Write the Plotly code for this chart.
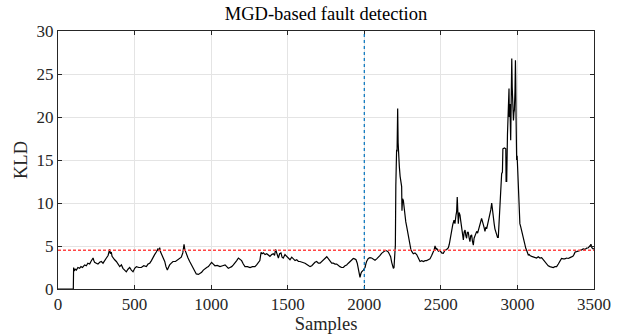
import plotly.graph_objects as go

# ---- data ----
samples = [0, 100, 102, 106, 112, 120, 130, 141, 150, 160, 174, 185, 195, 207, 215, 222, 229, 234, 239, 250,
           261, 272, 283, 294, 305, 316, 327, 332, 337, 342, 348, 353, 359, 370, 381, 392, 403, 414, 424, 435,
           446, 457, 468, 479, 490, 501, 512, 528, 544, 560, 577, 588, 599, 610, 620, 631, 642, 648, 653, 658,
           664, 670, 675, 686, 697, 705, 714, 721, 729, 740, 751, 767, 784, 795, 805, 815, 823, 828, 838, 849,
           860, 871, 882, 893, 903, 917, 928, 938, 949, 960, 971, 982, 993, 1003, 1014, 1025, 1040, 1058, 1075, 1091,
           1102, 1112, 1123, 1134, 1145, 1156, 1167, 1178, 1188, 1199, 1210, 1221, 1237, 1254, 1270, 1286, 1297, 1308, 1318, 1326,
           1333, 1341, 1352, 1363, 1374, 1384, 1395, 1406, 1414, 1421, 1428, 1439, 1447, 1456, 1463, 1471, 1482, 1493, 1504, 1515,
           1526, 1537, 1548, 1559, 1570, 1580, 1597, 1613, 1630, 1646, 1657, 1667, 1678, 1689, 1700, 1711, 1722, 1733, 1744, 1755,
           1766, 1776, 1787, 1798, 1809, 1820, 1831, 1841, 1852, 1863, 1874, 1885, 1896, 1907, 1917, 1928, 1937, 1946, 1954, 1961,
           1968, 1972, 1978, 1983, 1994, 2005, 2010, 2015, 2026, 2037, 2048, 2059, 2070, 2081, 2092, 2103, 2113, 2124, 2135, 2146,
           2157, 2165, 2172, 2179, 2185, 2190, 2194, 2198, 2203, 2206, 2208, 2211, 2214, 2218, 2221, 2224, 2229, 2234, 2239, 2244,
           2246, 2250, 2255, 2260, 2266, 2271, 2277, 2283, 2288, 2294, 2299, 2304, 2309, 2315, 2320, 2331, 2342, 2353, 2364, 2375,
           2386, 2397, 2407, 2418, 2429, 2440, 2451, 2457, 2462, 2468, 2473, 2484, 2494, 2505, 2516, 2527, 2538, 2549, 2555, 2560,
           2565, 2570, 2578, 2586, 2592, 2599, 2603, 2607, 2610, 2614, 2619, 2625, 2630, 2636, 2641, 2647, 2652, 2658, 2663, 2668,
           2673, 2679, 2684, 2690, 2695, 2701, 2706, 2712, 2717, 2723, 2728, 2734, 2740, 2745, 2750, 2755, 2761, 2766, 2771, 2777,
           2783, 2788, 2794, 2799, 2805, 2810, 2815, 2821, 2826, 2832, 2837, 2843, 2848, 2853, 2859, 2864, 2870, 2875, 2879, 2882,
           2886, 2890, 2894, 2897, 2902, 2905, 2915, 2924, 2926, 2930, 2935, 2941, 2945, 2947, 2951, 2956, 2960, 2963, 2966, 2969,
           2974, 2977, 2980, 2984, 2987, 2989, 2991, 2995, 2998, 3002, 3006, 3011, 3016, 3022, 3027, 3033, 3038, 3044, 3049, 3055,
           3060, 3066, 3071, 3077, 3082, 3093, 3103, 3114, 3125, 3136, 3147, 3158, 3169, 3180, 3190, 3201, 3212, 3223, 3234, 3245,
           3256, 3267, 3278, 3288, 3299, 3310, 3321, 3332, 3343, 3354, 3362, 3369, 3377, 3386, 3397, 3408, 3419, 3430, 3441, 3452,
           3463, 3473, 3480, 3486, 3491, 3495, 3500]

kld = [0.0, 0.0, 2.5, 2.1, 2.3, 2.2, 2.5, 2.4, 2.6, 2.5, 2.8, 2.7, 3.0, 2.9, 3.2, 3.4, 3.6, 3.3, 3.1, 3.0,
       2.9, 3.1, 3.2, 3.0, 3.4, 3.6, 3.9, 4.4, 4.6, 4.1, 4.3, 3.8, 3.6, 3.4, 3.2, 2.9, 2.6, 2.8, 2.4, 2.2,
       2.0, 2.3, 2.5, 2.2, 2.0, 2.4, 2.6, 2.5, 2.5, 2.7, 2.6, 2.9, 3.0, 3.3, 3.7, 4.0, 4.3, 4.6, 4.7, 4.4,
       4.8, 4.3, 4.1, 3.6, 3.2, 2.6, 2.2, 2.5, 2.8, 3.0, 3.2, 3.2, 3.4, 3.6, 3.7, 4.2, 5.2, 4.6, 4.0, 3.6,
       3.2, 2.8, 2.4, 2.0, 1.75, 1.7, 1.8, 1.95, 2.2, 2.4, 2.5, 2.6, 2.9, 3.1, 2.9, 2.7, 2.75, 2.6, 2.7, 2.8,
       2.6, 2.4, 2.5, 2.6, 2.8, 3.0, 3.3, 3.6, 3.5, 3.3, 2.9, 2.6, 2.6, 2.5, 2.6, 2.6, 2.8, 3.0, 3.3, 4.25,
       4.1, 4.2, 4.0, 4.1, 3.9, 3.8, 4.0, 4.1, 3.9, 4.6, 4.2, 3.6, 4.1, 4.2, 3.7, 3.6, 4.0, 3.8, 3.5, 3.4,
       3.7, 3.5, 3.3, 3.4, 3.2, 3.2, 3.1, 3.0, 2.8, 2.6, 2.7, 2.9, 3.1, 3.2, 3.0, 3.0, 3.2, 3.4, 3.6, 3.75,
       3.5, 3.2, 3.0, 3.0, 2.9, 2.9, 2.7, 2.6, 2.5, 2.5, 2.7, 2.8, 3.0, 3.2, 3.4, 3.55, 3.5, 3.4, 3.0, 2.4,
       1.6, 1.35, 1.8, 2.0, 2.2, 2.5, 2.9, 3.2, 3.55, 3.65, 3.6, 3.45, 3.35, 3.5, 3.65, 3.9, 4.15, 4.35, 4.45, 4.45,
       4.3, 4.0, 3.75, 3.1, 2.6, 2.4, 2.5, 3.5, 5.1, 12.0, 15.8, 16.2, 16.0, 21.0, 17.0, 15.0, 14.2, 13.1, 12.5, 11.9,
       9.1, 10.5, 10.3, 9.2, 8.4, 7.8, 7.25, 6.6, 6.1, 5.3, 4.7, 4.6, 4.4, 4.2, 4.1, 4.2, 4.0, 3.6, 3.2, 3.3,
       3.2, 3.3, 3.3, 3.4, 3.5, 3.9, 4.3, 4.6, 5.0, 4.6, 4.7, 4.4, 4.5, 4.2, 4.15, 4.5, 4.6, 4.8, 5.2, 5.7,
       6.5, 6.7, 7.5, 8.0, 7.6, 8.6, 9.0, 10.7, 8.5, 7.6, 8.9, 8.6, 7.9, 7.25, 6.5, 5.7, 6.6, 6.85, 6.2, 5.9,
       6.6, 6.6, 6.0, 5.5, 6.2, 6.3, 5.6, 5.1, 5.9, 6.2, 6.6, 6.7, 6.5, 6.9, 7.1, 7.4, 7.8, 8.2, 7.9, 7.6,
       7.1, 6.7, 7.2, 7.0, 7.5, 7.7, 8.1, 8.6, 9.2, 10.0, 9.0, 8.5, 7.6, 7.0, 6.5, 6.1, 6.0, 6.0, 7.5, 9.0,
       11.0, 12.3, 13.0, 13.4, 13.6, 16.3, 16.4, 16.3, 12.5, 12.5, 18.0, 23.1, 23.3, 20.0, 21.5, 17.3, 20.5, 26.8, 23.5, 21.2,
       19.6, 20.5, 20.8, 23.0, 26.6, 24.0, 20.0, 15.0, 15.5, 13.8, 11.5, 9.5, 7.6, 7.2, 6.8, 6.2, 5.8, 5.3, 4.9, 4.7,
       4.5, 4.2, 3.95, 4.0, 3.88, 3.8, 3.75, 3.65, 3.6, 3.75, 3.6, 3.65, 3.4, 3.1, 2.9, 2.7, 2.6, 2.55, 2.5, 2.6,
       2.6, 2.9, 3.2, 3.55, 3.5, 3.5, 3.6, 3.55, 3.65, 3.7, 3.8, 4.0, 4.3, 4.35, 4.4, 4.5, 4.55, 4.65, 4.6, 4.75,
       4.8, 5.0, 5.2, 4.8, 4.7, 4.65, 4.7]

threshold = 4.5
fault_start = 2000
x_ticks = [0, 500, 1000, 1500, 2000, 2500, 3000, 3500]
y_ticks = [0, 5, 10, 15, 20, 25, 30]

FONT = "Liberation Serif, Times New Roman, serif"
AXIS_COLOR = "#262626"

fig = go.Figure()
fig.add_trace(go.Scatter(x=samples, y=kld, mode="lines",
                         line=dict(color="black", width=1.2), showlegend=False))

fig.add_hline(y=threshold, line=dict(color="rgb(255,70,70)", width=1.5, dash="3px,2px"))
fig.add_vline(x=fault_start, line=dict(color="rgb(0,114,189)", width=1.2, dash="dot"))

axis_common = dict(
    showline=True, linecolor=AXIS_COLOR, linewidth=1, mirror="ticks",
    ticks="inside", ticklen=4, tickcolor=AXIS_COLOR, tickwidth=1,
    showgrid=True, gridcolor="#e4e4e4", gridwidth=1, zeroline=False,
    tickfont=dict(family=FONT, size=17, color=AXIS_COLOR),
)

fig.update_xaxes(range=[0, 3500], tickvals=x_ticks, ticktext=[str(t) for t in x_ticks],
                 title=dict(text="Samples", font=dict(family=FONT, size=18.5, color=AXIS_COLOR), standoff=2),
                 **axis_common)
fig.update_yaxes(range=[0, 30], tickvals=y_ticks, ticktext=[str(t) for t in y_ticks],
                 title=dict(text="KLD", font=dict(family=FONT, size=18.5, color=AXIS_COLOR), standoff=4),
                 **axis_common)

fig.update_layout(
    width=625, height=336,
    font=dict(family=FONT, size=17, color=AXIS_COLOR),
    margin=dict(l=58, r=31, t=31, b=47, autoexpand=False),
    paper_bgcolor="white", plot_bgcolor="white",
    title=dict(text="MGD-based fault detection", x=(58 + 594) / 2 / 625, xanchor="center",
               y=1 - 14 / 336, yref="container", yanchor="middle",
               font=dict(family=FONT, size=18.5, color="black")),
)

fig.write_html("out.html")
